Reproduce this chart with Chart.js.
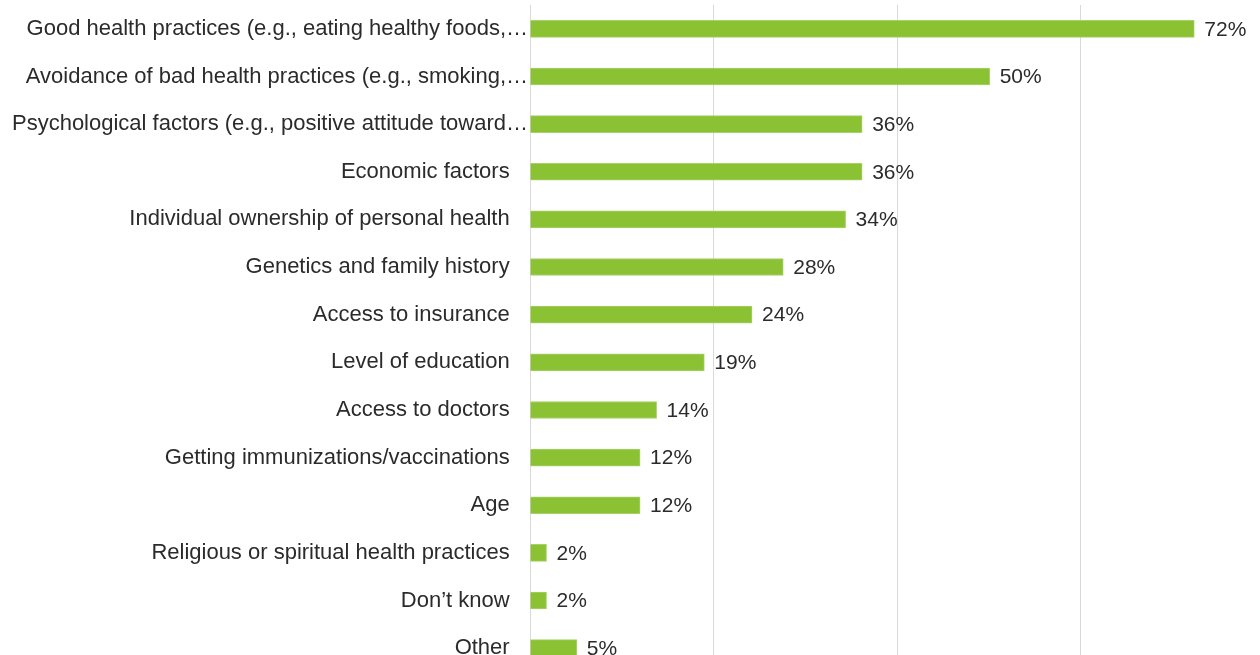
<!DOCTYPE html>
<html>
<head>
<meta charset="utf-8">
<script src="https://cdn.jsdelivr.net/npm/chart.js@4"></script>
<style>
  html, body { margin: 0; padding: 0; background: #fff; overflow: hidden; }
  canvas { display: block; }
</style>
</head>
<body>
<canvas id="chart" width="1264" height="672" style="width:1264px;height:672px"></canvas>
<script>
const categories = [
  'Good health practices (e.g., eating healthy foods,…',
  'Avoidance of bad health practices (e.g., smoking,…',
  'Psychological factors (e.g., positive attitude toward…',
  'Economic factors',
  'Individual ownership of personal health',
  'Genetics and family history',
  'Access to insurance',
  'Level of education',
  'Access to doctors',
  'Getting immunizations/vaccinations',
  'Age',
  'Religious or spiritual health practices',
  'Don’t know',
  'Other'
]
const values = [72.4, 50.1, 36.2, 36.2, 34.4, 27.6, 24.2, 19.0, 13.8, 12.0, 12.0, 1.8, 1.8, 5.1]
const valueLabels = ['72%', '50%', '36%', '36%', '34%', '28%', '24%', '19%', '14%', '12%', '12%', '2%', '2%', '5%']

const FONT = '"Liberation Sans", Arial, sans-serif'

// draws the percentage just past the end of each bar
const barLabels = {
  id: 'barLabels',
  afterDatasetsDraw (chart) {
    const ctx = chart.ctx
    const meta = chart.getDatasetMeta(0)
    ctx.save()
    ctx.font = '21px ' + FONT
    ctx.fillStyle = '#2b2b2b'
    ctx.textAlign = 'left'
    ctx.textBaseline = 'middle'
    meta.data.forEach((bar, i) => {
      ctx.fillText(valueLabels[i], bar.x + 10, bar.y + 1)
    })
    ctx.restore()
  }
}

new Chart(document.getElementById('chart'), {
  type: 'bar',
  data: {
    labels: categories,
    datasets: [{
      data: values,
      backgroundColor: '#8bc234',
      borderColor: '#a6d16c',
      borderWidth: 1,
      barThickness: 17
    }]
  },
  plugins: [barLabels],
  options: {
    indexAxis: 'y',
    responsive: false,
    animation: false,
    layout: { padding: { top: 5, left: 0, right: 0, bottom: 0 } },
    plugins: {
      legend: { display: false },
      tooltip: { enabled: false }
    },
    scales: {
      x: {
        min: 0,
        max: 80,
        afterFit: (scale) => {
          scale.height = 0
          scale.paddingLeft = 0
          scale.paddingRight = 0
        },
        ticks: { display: false, stepSize: 20 },
        grid: { color: '#d9d9d9', lineWidth: 1, drawTicks: false },
        border: { display: false }
      },
      y: {
        afterFit: (scale) => {
          scale.width = 530
          scale.paddingTop = 0
          scale.paddingBottom = 0
        },
        ticks: {
          color: '#2b2b2b',
          padding: 2,
          font: { family: FONT, size: 22 },
          // truncated labels run closer to the axis than full ones
          callback: function (value) {
            const label = this.getLabelForValue(value)
            return label.endsWith('…') ? label : label + '\u00a0\u00a0\u00a0'
          }
        },
        grid: { display: false, drawTicks: false },
        border: { display: false }
      }
    }
  }
})
</script>
</body>
</html>
